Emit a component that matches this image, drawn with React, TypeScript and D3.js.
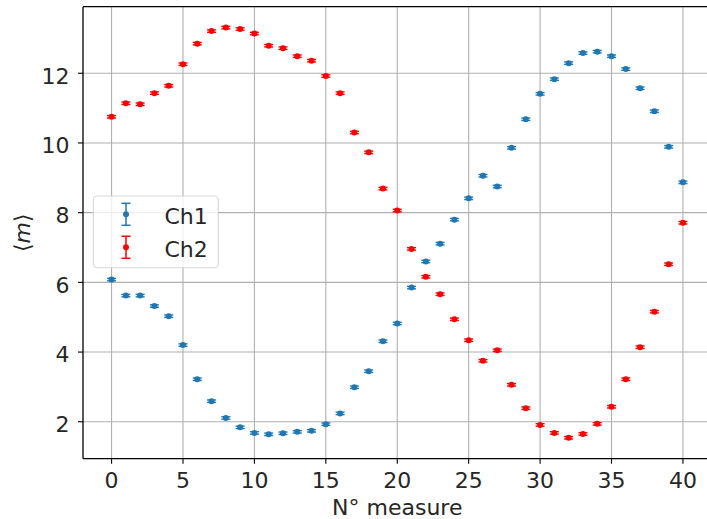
import React from 'react';
import * as d3 from 'd3';

const measures = [0,1,2,3,4,5,6,7,8,9,10,11,12,13,14,15,16,17,18,19,20,21,22,23,24,25,26,27,28,29,30,31,32,33,34,35,36,37,38,39,40];
const ch1 = [6.08,5.62,5.62,5.32,5.03,4.20,3.22,2.59,2.11,1.84,1.68,1.64,1.67,1.71,1.74,1.93,2.24,2.99,3.45,4.31,4.82,5.85,6.60,7.11,7.80,8.41,9.06,8.75,9.86,10.68,11.41,11.83,12.29,12.58,12.62,12.49,12.12,11.57,10.91,9.89,8.87];
const ch2 = [10.75,11.14,11.11,11.43,11.64,12.26,12.85,13.21,13.31,13.27,13.14,12.79,12.72,12.49,12.36,11.92,11.43,10.30,9.73,8.69,8.06,6.96,6.16,5.66,4.94,4.34,3.75,4.05,3.06,2.39,1.91,1.68,1.54,1.65,1.94,2.43,3.22,4.14,5.16,6.52,7.71];
const ch1Err = 0.035;
const ch2Err = 0.035;
const seriesNames = ['Ch1', 'Ch2'];
const xTicks = [0,5,10,15,20,25,30,35,40];
const yTicks = [2,4,6,8,10,12];

const FONT = 'DejaVu Sans';

export default function App() {
  const W = 707, H = 519;
  const left = 83, right = 711.5, top = 6.7, bottom = 458.7;
  const x = d3.scaleLinear().domain([-2, 42]).range([left, right]);
  const y = d3.scaleLinear().domain([0.94, 13.91]).range([bottom, top]);
  const series = [
    { name: seriesNames[0], values: ch1, err: ch1Err, color: '#1f77b4' },
    { name: seriesNames[1], values: ch2, err: ch2Err, color: '#ff0000' },
  ];
  const capHalf = 4.5;
  const fs = 22;

  return (
    <svg width={W} height={H} style={{ position: 'absolute', left: 0, top: 0, background: '#fff' }} fontFamily={FONT}>
      <rect x={0} y={0} width={W} height={H} fill="#fff" />
      {/* grid */}
      <g stroke="#b0b0b0" strokeWidth={1.1}>
        {xTicks.map(t => <line key={'gx' + t} x1={x(t)} x2={x(t)} y1={top} y2={bottom} />)}
        {yTicks.map(t => <line key={'gy' + t} x1={left} x2={right} y1={y(t)} y2={y(t)} />)}
      </g>
      {/* data */}
      {series.map(s => (
        <g key={s.name} stroke={s.color} fill={s.color}>
          {measures.map((m, i) => {
            const cx = x(m), v = s.values[i];
            const y0 = y(v - s.err), y1 = y(v + s.err);
            return (
              <g key={i}>
                <line x1={cx} x2={cx} y1={y0} y2={y1} strokeWidth={1.5} />
                <line x1={cx - capHalf} x2={cx + capHalf} y1={y0} y2={y0} strokeWidth={1.4} />
                <line x1={cx - capHalf} x2={cx + capHalf} y1={y1} y2={y1} strokeWidth={1.4} />
                <circle cx={cx} cy={y(v)} r={3} stroke="none" />
              </g>
            );
          })}
        </g>
      ))}
      {/* spines */}
      <g stroke="#000" strokeWidth={1.3} fill="none">
        <line x1={left} x2={left} y1={top} y2={bottom} />
        <line x1={left} x2={right} y1={bottom} y2={bottom} />
        <line x1={left} x2={right} y1={top} y2={top} />
        <line x1={right} x2={right} y1={top} y2={bottom} />
      </g>
      {/* x ticks */}
      <g>
        {xTicks.map(t => (
          <g key={'xt' + t}>
            <line x1={x(t)} x2={x(t)} y1={bottom} y2={bottom + 5} stroke="#000" strokeWidth={1.1} />
            <text x={x(t)} y={bottom + 28.8} textAnchor="middle" fontSize={fs} fill="#262626">{t}</text>
          </g>
        ))}
      </g>
      {/* y ticks */}
      <g>
        {yTicks.map(t => (
          <g key={'yt' + t}>
            <line x1={left - 5} x2={left} y1={y(t)} y2={y(t)} stroke="#000" strokeWidth={1.1} />
            <text x={69.5} y={y(t) + 10.3} textAnchor="end" fontSize={fs} fill="#262626">{t}</text>
          </g>
        ))}
      </g>
      {/* axis labels */}
      <text x={(left + right) / 2} y={514.5} textAnchor="middle" fontSize={fs} fill="#262626">N° measure</text>
      <text transform={`translate(30,${(top + bottom) / 2}) rotate(-90)`} textAnchor="middle" fontSize={fs} fill="#262626">
        <tspan>⟨</tspan><tspan fontStyle="italic">m</tspan><tspan>⟩</tspan>
      </text>
      {/* legend */}
      <g>
        <rect x={93.3} y={196} width={125} height={71.7} rx={4} fill="#fff" fillOpacity={0.8} stroke="#cccccc" strokeOpacity={0.8} strokeWidth={1.1} />
        {series.map((s, i) => {
          const cy = 214.3 + i * 33;
          const cx = 126;
          return (
            <g key={'lg' + s.name}>
              <g stroke={s.color} strokeWidth={1.5}>
                <line x1={cx} x2={cx} y1={cy - 11} y2={cy + 11} />
                <line x1={cx - capHalf} x2={cx + capHalf} y1={cy - 11} y2={cy - 11} />
                <line x1={cx - capHalf} x2={cx + capHalf} y1={cy + 11} y2={cy + 11} />
              </g>
              <circle cx={cx} cy={cy} r={3} fill={s.color} />
              <text x={164.5} y={cy + 9.2} fontSize={fs} fill="#262626">{s.name}</text>
            </g>
          );
        })}
      </g>
    </svg>
  );
}
